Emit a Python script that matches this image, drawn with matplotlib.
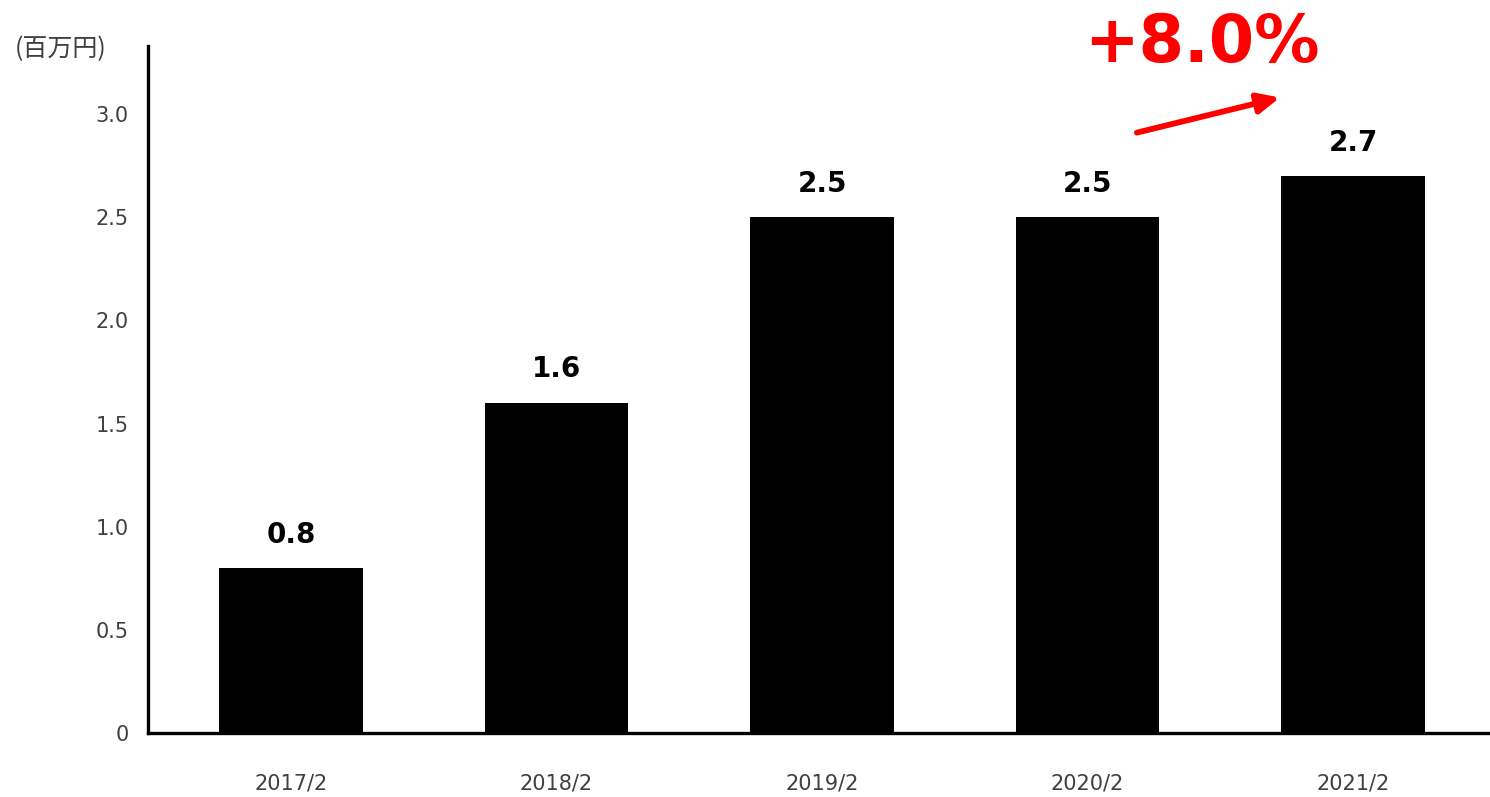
import matplotlib
matplotlib.use("Agg")
import matplotlib.pyplot as plt

plt.rcParams['font.family'] = ['DejaVu Sans', 'Noto Sans CJK JP']

# Fiscal periods and sales (millions of yen)
periods = ["2017/2", "2018/2", "2019/2", "2020/2", "2021/2"]
sales = [0.8, 1.6, 2.5, 2.5, 2.7]
yticks = [0, 0.5, 1.0, 1.5, 2.0, 2.5, 3.0]
ytick_labels = ["0", "0.5", "1.0", "1.5", "2.0", "2.5", "3.0"]
unit_label = "(百万円)"

growth = (sales[-1] / sales[-2] - 1) * 100

fig = plt.figure(figsize=(14.9, 7.97), dpi=100)
ax = fig.add_axes([0.0993, 0.0803, 0.9007, 0.862])

x = list(range(len(periods)))
ax.bar(x, sales, width=0.542, color="black")

# value labels above each bar
for xi, v in zip(x, sales):
    ax.annotate(f"{v:.1f}", (xi, v), xytext=(0, 14), textcoords="offset points",
                ha="center", va="bottom", fontsize=20, fontweight="bold")

ax.set_xlim(-0.539, 4.516)
ax.set_ylim(0, 3.33)
ax.set_xticks(x)
ax.set_xticklabels(periods)
ax.set_yticks(yticks)
ax.set_yticklabels(ytick_labels)
ax.tick_params(axis="both", length=0, labelsize=15, colors="#404040")
ax.tick_params(axis="x", pad=29)
ax.tick_params(axis="y", pad=14)

for side in ["top", "right"]:
    ax.spines[side].set_visible(False)
for side in ["left", "bottom"]:
    ax.spines[side].set_linewidth(2.4)
    ax.spines[side].set_color("black")

fig.text(0.010, 0.938, unit_label, fontsize=18, color="#404040",
         family=["Noto Sans CJK JP", "DejaVu Sans"], va="center", ha="left")

# growth arrow from the last two periods
ax.annotate("", xy=(3.725, sales[-1] + 0.38), xytext=(3.186, sales[-2] + 0.41),
            arrowprops=dict(arrowstyle="-|>,head_length=1.3,head_width=0.6",
                            color="#ff0000", lw=4.2, shrinkA=0, shrinkB=0))
ax.text(3.43, 3.34, f"+{growth:.1f}%", color="#ff0000", fontsize=47,
        fontweight="bold", ha="center", va="center", clip_on=False)

fig.savefig("out.png", dpi=100)
